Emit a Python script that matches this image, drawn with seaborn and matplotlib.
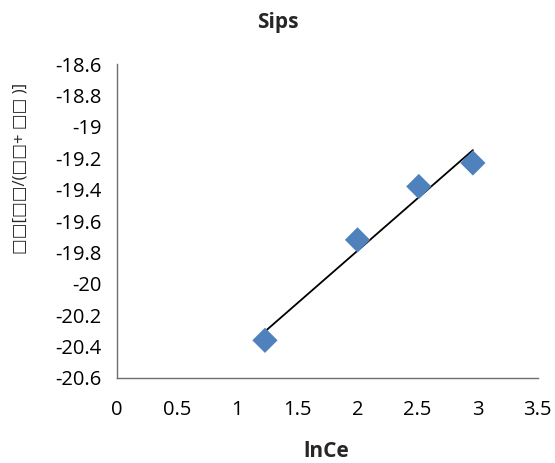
import numpy as np
import pandas as pd
import matplotlib
matplotlib.use("Agg")
import matplotlib.pyplot as plt
import seaborn as sns

# data
ln_ce = [1.23, 2.00, 2.51, 2.96]
y_vals = [-20.36, -19.72, -19.38, -19.23]
x_ticks = [0, 0.5, 1, 1.5, 2, 2.5, 3, 3.5]
y_ticks = [-20.6, -20.4, -20.2, -20, -19.8, -19.6, -19.4, -19.2, -19, -18.8, -18.6]

df = pd.DataFrame({"lnCe": ln_ce, "y": y_vals})

sns.set_style("white")
plt.rcParams["font.family"] = ["Open Sans", "DejaVu Sans"]

fig = plt.figure(figsize=(5.55, 4.63), dpi=100)
ax = fig.add_axes([0.211, 0.1836, 0.758, 0.678])

# linear trendline + markers
sns.regplot(data=df, x="lnCe", y="y", ax=ax, ci=None,
            scatter=False, line_kws={"color": "black", "lw": 1.3})
sns.scatterplot(data=df, x="lnCe", y="y", ax=ax, marker="D", s=165,
                color="#4F81BD", edgecolor="none", zorder=3)

ax.set_xlim(0, 3.5)
ax.set_ylim(-20.6, -18.6)
ax.set_xticks(x_ticks)
ax.set_xticklabels([f"{t:g}" for t in x_ticks])
ax.set_yticks(y_ticks)
ax.set_yticklabels([f"{t:g}" for t in y_ticks])
ax.tick_params(axis="both", labelsize=14.5, colors="black", length=0)
ax.tick_params(axis="x", pad=16)
ax.tick_params(axis="y", pad=11)

for side in ["top", "right"]:
    ax.spines[side].set_visible(False)
for side in ["left", "bottom"]:
    ax.spines[side].set_color("#6e6e6e")
    ax.spines[side].set_linewidth(1.0)

ax.set_xlabel("lnCe", fontsize=15, fontweight="bold")
ax.xaxis.set_label_coords(0.497, -0.2)
ax.set_ylabel("\u25a1\u25a1[\u25a1\u25a1/(\u25a1\u25a1+ \u25a1\u25a1 )]",
              fontsize=12)
ax.yaxis.set_label_coords(-0.21, 0.669)
fig.suptitle("Sips", x=0.5, y=0.975, fontsize=15, fontweight="bold")

fig.savefig("out.png", dpi=100)
